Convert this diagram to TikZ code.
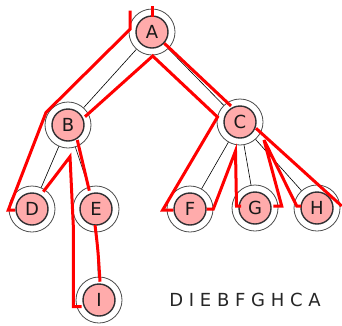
\documentclass[tikz,border=0pt]{standalone}
\usepackage{fontspec}
\setmainfont{DejaVu Sans}
\begin{document}
\begin{tikzpicture}[x=1pt,y=-1pt,
  outer/.style={circle,draw=black!70,line width=0.8pt,minimum size=46pt,inner sep=0pt},
  inner/.style={circle,draw=black!80!cyan!40!black,fill=red!33,line width=1.4pt,minimum size=32pt,inner sep=0pt,font=\fontsize{18}{18}\selectfont,text=black!90},
  treeedge/.style={draw=black,line width=0.6pt},
  tour/.style={draw=red,line width=3pt,line join=miter,line cap=butt}]
\useasboundingbox (0,0) rectangle (342,325);
\foreach \n/\x/\y in {A/152/32,B/68/125,C/240/122,D/32/209,E/96/209,F/190/209,G/255/208,H/317/208,I/99/300}{
  \node[outer] (\n o) at (\x,\y) {};
  \node[inner] (\n) at (\x,\y) {\n};
}
\draw[treeedge] (Ao) -- (Bo);
\draw[treeedge] (Ao) -- (Co);
\draw[treeedge] (Bo) -- (Do);
\draw[treeedge] (Bo) -- (Eo);
\draw[treeedge] (Eo) -- (Io);
\draw[treeedge] (Co) -- (Fo);
\draw[treeedge] (Co) -- (Go);
\draw[treeedge] (Co) -- (Ho);
% Euler tour
\draw[tour] (152.7,6) -- (152.7,17);
\draw[tour] (130,10.7) -- (130,29.3) -- (46,112.5) -- (8.3,210) -- (15,210);
\draw[tour] (43.3,191.7) -- (70,156.7) -- (73.3,226) -- (73.3,306.7) -- (81.7,306.7);
\draw[tour] (100,281.7) .. controls (98,250) .. (95,225);
\draw[tour] (89.3,190.7) -- (77.3,140);
\draw[tour] (85,116.7) -- (152.7,56) -- (217.5,117) -- (162.7,210) -- (173.3,210);
\draw[tour] (206.7,209) -- (213.3,209) -- (235.5,151) -- (236.5,206) -- (241,206);
\draw[tour] (273.3,206) -- (281.7,206) -- (264,140) -- (296.7,206) -- (301,206);
\draw[tour] (256,128.3) -- (341.7,206);
\draw[tour] (164.3,43.3) -- (231,106);
\node[font=\fontsize{18}{18}\selectfont,text=black!85,anchor=base] (order) at (245,306.7) {D I E B F G H C A};
\end{tikzpicture}
\end{document}
